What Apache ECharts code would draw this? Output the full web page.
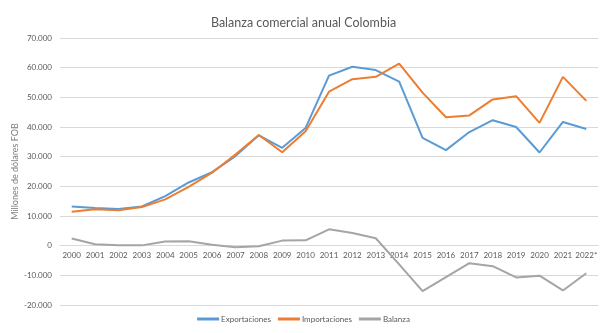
<!DOCTYPE html>
<html><head><meta charset="utf-8">
<script src="https://cdn.jsdelivr.net/npm/echarts@6/dist/echarts.min.js"></script>
<style>html,body{margin:0;padding:0;background:#fff}#c{width:607px;height:333px}</style>
</head><body><div id="c"></div>
<script>
const years = ["2000","2001","2002","2003","2004","2005","2006","2007","2008","2009","2010","2011","2012","2013","2014","2015","2016","2017","2018","2019","2020","2021","2022*"];
const exportaciones = [13200,12700,12400,13200,16700,21300,24800,30200,37200,33000,39700,57300,60300,59200,55300,36300,32200,38300,42300,40000,31400,41700,39300];
const importaciones = [11400,12300,11900,13000,15600,19800,24600,30700,37300,31500,38600,51900,56100,56900,61400,51600,43300,43900,49300,50400,41400,56900,48800];
const balanza = [2400,500,100,100,1400,1500,300,-500,-200,1700,1800,5500,4300,2500,-6300,-15300,-10600,-5900,-6900,-10700,-10100,-15100,-9300];
const yTicks = {min:-20000, max:70000, interval:10000};
const font = "Lato";
const gridTop = 38, gridBottom = 28, H = 333;
const plotH = H - gridTop - gridBottom;
const zeroOffset = plotH * (0 - yTicks.min) / (yTicks.max - yTicks.min);
const chart = echarts.init(document.getElementById('c'));
chart.setOption({
  animation:false,
  backgroundColor:'#fff',
  title:{text:'Balanza comercial anual Colombia', left:'center', top:11,
    textStyle:{fontFamily:font, fontSize:12.5, fontWeight:'normal', color:'#595959'}},
  grid:{left:60, right:9, top:gridTop, bottom:gridBottom},
  legend:{bottom:5, left:'center', itemWidth:22, itemHeight:3, itemGap:7, icon:'rect',
    textStyle:{fontFamily:font, fontSize:8, color:'#595959', padding:[0,0,0,-3]},
    data:['Exportaciones','Importaciones','Balanza']},
  xAxis:{type:'category', data:years, boundaryGap:true, offset:-zeroOffset,
    axisLine:{onZero:false, lineStyle:{color:'#d9d9d9'}}, axisTick:{show:false},
    axisLabel:{fontFamily:font, fontSize:8, color:'#595959', margin:6, interval:0}},
  yAxis:{type:'value', min:yTicks.min, max:yTicks.max, interval:yTicks.interval,
    name:'Millones de dólares FOB', nameLocation:'middle', nameGap:40, nameMoveOverlap:false,
    nameTextStyle:{fontFamily:font, fontSize:9, color:'#7f7f7f'},
    axisLine:{show:false}, axisTick:{show:false},
    splitLine:{lineStyle:{color:'#d9d9d9'}},
    axisLabel:{fontFamily:font, fontSize:8, color:'#595959', margin:8,
      formatter:v=>v===0?'0':(v<0?'-':'')+Math.abs(v).toLocaleString('de-DE')}},
  series:[
    {name:'Exportaciones', type:'line', data:exportaciones, symbol:'none', lineStyle:{width:2, color:'#5b9bd5'}, itemStyle:{color:'#5b9bd5'}},
    {name:'Importaciones', type:'line', data:importaciones, symbol:'none', lineStyle:{width:2, color:'#ed7d31'}, itemStyle:{color:'#ed7d31'}},
    {name:'Balanza', type:'line', data:balanza, symbol:'none', lineStyle:{width:2, color:'#a5a5a5'}, itemStyle:{color:'#a5a5a5'}}
  ]
});
</script></body></html>
